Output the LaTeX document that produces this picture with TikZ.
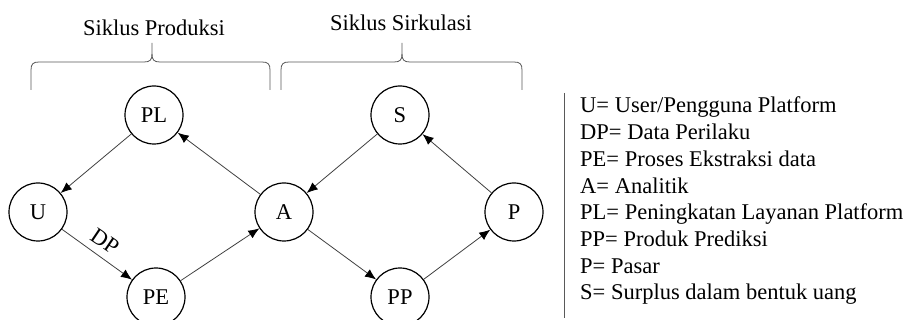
\documentclass[tikz,border=0pt]{standalone}
\usepackage{fontspec}
\setmainfont{Liberation Serif}
\usetikzlibrary{arrows.meta}
\begin{document}
\begin{tikzpicture}[x=1pt,y=-1pt,
  circ/.style={circle,draw=black,line width=1.2pt,minimum size=58pt,inner sep=0pt,font=\fontsize{22.5}{27}\selectfont},
  conn/.style={draw=black!75,line width=0.8pt,-{Latex[length=11pt,width=9pt,color=black]}},
  brace/.style={draw=black!65,line width=0.8pt},
  txt/.style={font=\fontsize{22.5}{27}\selectfont,inner sep=0pt},
  leg/.style={txt,anchor=base west}]
\useasboundingbox (0,0) rectangle (912,320);
% nodes
\node[circ] (PL) at (154,115) {PL};
\node[circ] (U)  at (38,212) {U};
\node[circ] (A)  at (284,212) {A};
\node[circ] (PE) at (156,297) {PE};
\node[circ] (S)  at (400,115) {S};
\node[circ] (P)  at (514,212) {P};
\node[circ] (PP) at (400,297) {PP};
% connectors
\draw[conn] (PL) -- (U);
\draw[conn] (U) -- (PE);
\node[txt,rotate=-34] (dp) at (105,241) {DP};
\draw[conn] (PE) -- (A);
\draw[conn] (A) -- (PL);
\draw[conn] (S) -- (A);
\draw[conn] (A) -- (PP);
\draw[conn] (PP) -- (P);
\draw[conn] (P) -- (S);
% titles
\node[txt] (t1) at (154,28) {Siklus Produksi};
\node[txt] (t2) at (401,23) {Siklus Sirkulasi};
% braces
\draw[brace] (31,90) -- (31,70) .. controls (31,64) and (33,62) .. (39,62) -- (144,62) .. controls (150,62) and (152,60) .. (152,54) -- (152,43);
\draw[brace] (152,54) .. controls (152,60) and (154,62) .. (160,62) -- (262,62) .. controls (268,62) and (270,64) .. (270,70) -- (270,90);
\draw[brace] (281,90) -- (281,70) .. controls (281,64) and (283,62) .. (289,62) -- (394,62) .. controls (400,62) and (402,60) .. (402,54) -- (402,43);
\draw[brace] (402,54) .. controls (402,60) and (404,62) .. (410,62) -- (514,62) .. controls (520,62) and (522,64) .. (522,70) -- (522,90);
% legend
\coordinate (l1) at (564,93);
\coordinate (l2) at (564,318);
\draw[draw=black!65,line width=0.8pt] (l1) -- (l2);
\node[leg] (g1) at (580,113) {U= User/Pengguna Platform};
\node[leg] (g2) at (580,139.7) {DP= Data Perilaku};
\node[leg] (g3) at (580,166.4) {PE= Proses Ekstraksi data};
\node[leg] (g4) at (580,193.1) {A= Analitik};
\node[leg] (g5) at (580,219.8) {PL= Peningkatan Layanan Platform};
\node[leg] (g6) at (580,246.5) {PP= Produk Prediksi};
\node[leg] (g7) at (580,273.2) {P= Pasar};
\node[leg] (g8) at (580,299.9) {S= Surplus dalam bentuk uang};
\end{tikzpicture}
\end{document}
